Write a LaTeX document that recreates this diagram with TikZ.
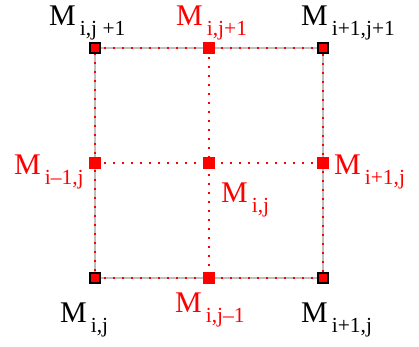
\documentclass[tikz,border=0pt]{standalone}
\usepackage{fontspec}
\setmainfont{Liberation Serif}
\usetikzlibrary{positioning}

\definecolor{mred}{RGB}{255,0,0}
\newcommand\Mlab[1]{M\hspace{4pt}\raisebox{-10pt}{\fontsize{21.5}{21.5}\selectfont #1}}

\begin{document}
\begin{tikzpicture}[x=1pt, y=-1pt,
  corner/.style={draw=black, fill=mred, line width=1.8pt,
                 minimum size=9.5pt, inner sep=0pt},
  mid/.style={fill=mred, minimum size=11.5pt, inner sep=0pt},
  frame/.style={draw=black!25, line width=1.4pt},
  dots/.style={draw=mred, line width=1.3pt, dash pattern=on 1.6pt off 7.4pt},
  lab/.style={font=\fontsize{30}{30}\selectfont, inner sep=0pt,
              anchor=base west}]
  \useasboundingbox (0,0) rectangle (419,346);
  % grid points
  \coordinate (ll) at (95,278);
  \coordinate (lr) at (323,278);
  \coordinate (ul) at (95,48);
  \coordinate (ur) at (323,48);
  \coordinate (tm) at (209,48);
  \coordinate (bm) at (209,278);
  \coordinate (ml) at (95,163);
  \coordinate (mr) at (323,163);
  \coordinate (cc) at (209,163);
  % lines
  \draw[frame] (ul) -- (ur) -- (lr) -- (ll) -- cycle;
  \draw[dots] (ul) -- (ur) -- (lr) -- (ll) -- cycle;
  \draw[dots] (tm) -- (bm);
  \draw[dots] (ml) -- (mr);
  % markers
  \node[corner] (ulm) at (ul) {};
  \node[corner] (urm) at (ur) {};
  \node[corner] (llm) at (ll) {};
  \node[corner] (lrm) at (lr) {};
  \node[mid] (tmm) at (tm) {};
  \node[mid] (bmm) at (bm) {};
  \node[mid] (mlm) at (ml) {};
  \node[mid] (mrm) at (mr) {};
  \node[mid] (ccm) at (cc) {};
  % labels
  \node[lab] (ullab) at (49,25) {\Mlab{i,j +1}};
  \node[lab, text=mred] (tmlab) at (176,25) {\Mlab{i,j+1}};
  \node[lab] (urlab) at (301,25) {\Mlab{i+1,j+1}};
  \node[lab, text=mred] (mllab) at (14,174) {\Mlab{i--1,j}};
  \node[lab, text=mred] (cclab) at (221,202) {\Mlab{i,j}};
  \node[lab, text=mred] (mrlab) at (334,174) {\Mlab{i+1,j}};
  \node[lab] (lllab) at (60,322) {\Mlab{i,j}};
  \node[lab, text=mred] (bmlab) at (175,312) {\Mlab{i,j--1}};
  \node[lab] (lrlab) at (301,322) {\Mlab{i+1,j}};
\end{tikzpicture}
\end{document}
